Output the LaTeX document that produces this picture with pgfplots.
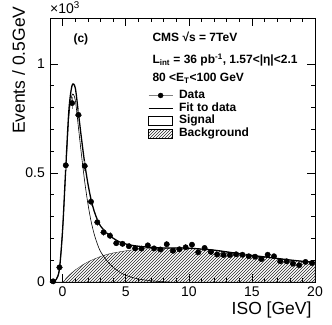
\documentclass[border=0pt]{standalone}
\usepackage{fontspec}
\setmainfont{Liberation Sans}
\usepackage{pgfplots}
\pgfplotsset{compat=1.18}
\usepackage{pgfplotstable}
\usetikzlibrary{patterns}

% data, in units of 10^3 events per 0.5 GeV
\pgfplotstableread{
x      y      ey
-0.75  0.003  0.002
-0.25  0.067  0.008
0.25   0.535  0.023
0.75   0.820  0.029
1.25   0.766  0.028
1.75   0.532  0.023
2.25   0.368  0.019
2.75   0.274  0.017
3.25   0.228  0.015
3.75   0.212  0.015
4.25   0.178  0.013
4.75   0.175  0.013
5.25   0.164  0.013
5.75   0.154  0.012
6.25   0.153  0.012
6.75   0.168  0.013
7.25   0.154  0.012
7.75   0.149  0.012
8.25   0.173  0.013
8.75   0.143  0.012
9.25   0.150  0.012
9.75   0.159  0.013
10.25  0.171  0.013
10.75  0.136  0.012
11.25  0.156  0.012
11.75  0.138  0.012
12.25  0.126  0.011
12.75  0.124  0.011
13.25  0.124  0.011
13.75  0.127  0.011
14.25  0.125  0.011
14.75  0.118  0.011
15.25  0.116  0.011
15.75  0.105  0.010
16.25  0.125  0.011
16.75  0.118  0.011
17.25  0.095  0.010
17.75  0.095  0.010
18.25  0.084  0.009
18.75  0.077  0.009
19.25  0.092  0.010
19.75  0.087  0.009
}\isodata

% background template
\pgfplotstableread{
x     y
-1    0
0     0
0.25  0.015
0.5   0.030
0.75  0.043
1     0.055
1.25  0.065
1.5   0.075
1.75  0.084
2     0.092
2.25  0.099
2.5   0.105
2.75  0.111
3     0.117
3.5   0.126
4     0.133
4.5   0.138
5     0.143
5.5   0.147
6     0.150
6.5   0.152
7     0.153
7.5   0.154
8     0.155
9     0.156
10    0.155
11    0.151
12    0.146
13    0.138
14    0.130
15    0.122
16    0.115
17    0.108
18    0.101
19    0.095
20    0.090
}\bgdata

% signal template
\pgfplotstableread{
x     y
-1    0
-0.75 0.002
-0.5  0.012
-0.25 0.060
0     0.240
0.25  0.510
0.5   0.760
0.75  0.858
1     0.835
1.25  0.710
1.5   0.580
1.75  0.460
2     0.360
2.25  0.280
2.5   0.220
2.75  0.175
3     0.140
3.5   0.098
4     0.068
4.5   0.046
5     0.031
5.5   0.021
6     0.014
6.5   0.009
7     0.006
7.5   0.003
8     0.001
8.5   0
}\sigdata

% total fit
\pgfplotstableread{
x     y
-1    0
-0.75 0.002
-0.5  0.012
-0.25 0.060
0     0.240
0.25  0.525
0.5   0.790
0.75  0.901
1     0.890
1.25  0.775
1.5   0.655
1.75  0.544
2     0.452
2.25  0.379
2.5   0.325
2.75  0.286
3     0.257
3.5   0.224
4     0.201
4.5   0.184
5     0.174
5.5   0.168
6     0.164
6.5   0.161
7     0.159
7.5   0.157
8     0.156
9     0.156
10    0.155
11    0.151
12    0.146
13    0.138
14    0.130
15    0.122
16    0.115
17    0.108
18    0.101
19    0.095
20    0.090
}\fitdata

\begin{document}
\begin{tikzpicture}
\begin{axis}[
    name=ax,
    width=265pt, height=264pt, scale only axis,
    xmin=-1, xmax=20, ymin=0, ymax=1.21,
    xtick={0,5,10,15,20}, minor x tick num=4,
    ytick={0,0.5,1}, minor y tick num=4,
    tick align=inside,
    major tick length=8pt, minor tick length=4pt,
    every tick/.style={black, line width=0.5pt},
    axis line style={line width=0.8pt},
    /pgf/number format/assume math mode=true,
    ticklabel style={font=\fontsize{14}{15}\selectfont},
    xticklabel style={inner sep=0pt, yshift=-5pt},
    yticklabel style={inner sep=0pt, xshift=-5pt},
    legend cell align=left,
    legend style={at={(rel axis cs:0.37,0.73)}, anchor=north west,
        draw=none, fill=none, inner sep=0pt, row sep=0.7pt, column sep=6pt,
        font=\bfseries\fontsize{12}{12.7}\selectfont,
        nodes={inner sep=0pt, text height=9pt, text depth=3pt}},
]
\addplot[draw=black!80, line width=0.4pt, pattern=north east lines,
    pattern color=black!85, smooth, forget plot] table {\bgdata} \closedcycle;
\addplot[black, line width=0.6pt, smooth, forget plot] table {\sigdata};
\addplot[black, line width=1.3pt, smooth, forget plot] table {\fitdata};
\addplot[only marks, mark=*, mark size=2.7pt, black, forget plot,
    error bars/.cd, x dir=both, x fixed=0.25, y dir=both, y explicit,
    error bar style={gray, line width=0.6pt}, error mark=none]
    table[x=x, y=y, y error=ey] {\isodata};

\addlegendimage{legend image code/.code={
    \draw[gray, line width=0.8pt] (0pt,0pt) -- (24pt,0pt);
    \fill[black] (12pt,0pt) circle (2.5pt);}}
\addlegendentry{Data}
\addlegendimage{legend image code/.code={
    \draw[black, line width=0.8pt] (0pt,0pt) -- (24pt,0pt);}}
\addlegendentry{Fit to data}
\addlegendimage{legend image code/.code={
    \draw[black, line width=0.5pt, fill=white] (0pt,-4.5pt) rectangle (24pt,4.5pt);}}
\addlegendentry{Signal}
\addlegendimage{legend image code/.code={
    \draw[black, line width=0.5pt, pattern=north east lines, pattern color=black!85]
        (0pt,-4.5pt) rectangle (24pt,4.5pt);}}
\addlegendentry{Background}

\node[anchor=base west, font=\bfseries\fontsize{12}{14}\selectfont]
    at (rel axis cs:0.0755,0.909) {(c)};
\node[anchor=base west, font=\bfseries\fontsize{12}{14}\selectfont]
    at (rel axis cs:0.3736,0.911) {CMS √s = 7TeV};
\node[anchor=base west, font=\bfseries\fontsize{12}{14}\selectfont]
    at (rel axis cs:0.3736,0.826) {L\textsubscript{int} = 36 pb\textsuperscript{-1}, 1.57<|η|<2.1};
\node[anchor=base west, font=\bfseries\fontsize{12}{14}\selectfont]
    at (rel axis cs:0.3736,0.76) {80 <E\textsubscript{T}<100 GeV};
\end{axis}
\node[anchor=base west, inner sep=0pt, font=\fontsize{14}{15}\selectfont]
    at ([yshift=4.5pt]ax.north west) {×10\textsuperscript{3}};
\node[anchor=base east, font=\fontsize{17.5}{20}\selectfont]
    at ([yshift=-32.5pt]ax.south east) {ISO [GeV]};
\node[rotate=90, anchor=base east, font=\fontsize{17.5}{20}\selectfont]
    at ([xshift=-25pt, yshift=15pt]ax.north west) {Events / 0.5GeV};
\pgfresetboundingbox
\path[use as bounding box] ([xshift=-50pt, yshift=-42pt]ax.south west)
    rectangle ([xshift=17pt, yshift=18pt]ax.north east);
\end{tikzpicture}
\end{document}
